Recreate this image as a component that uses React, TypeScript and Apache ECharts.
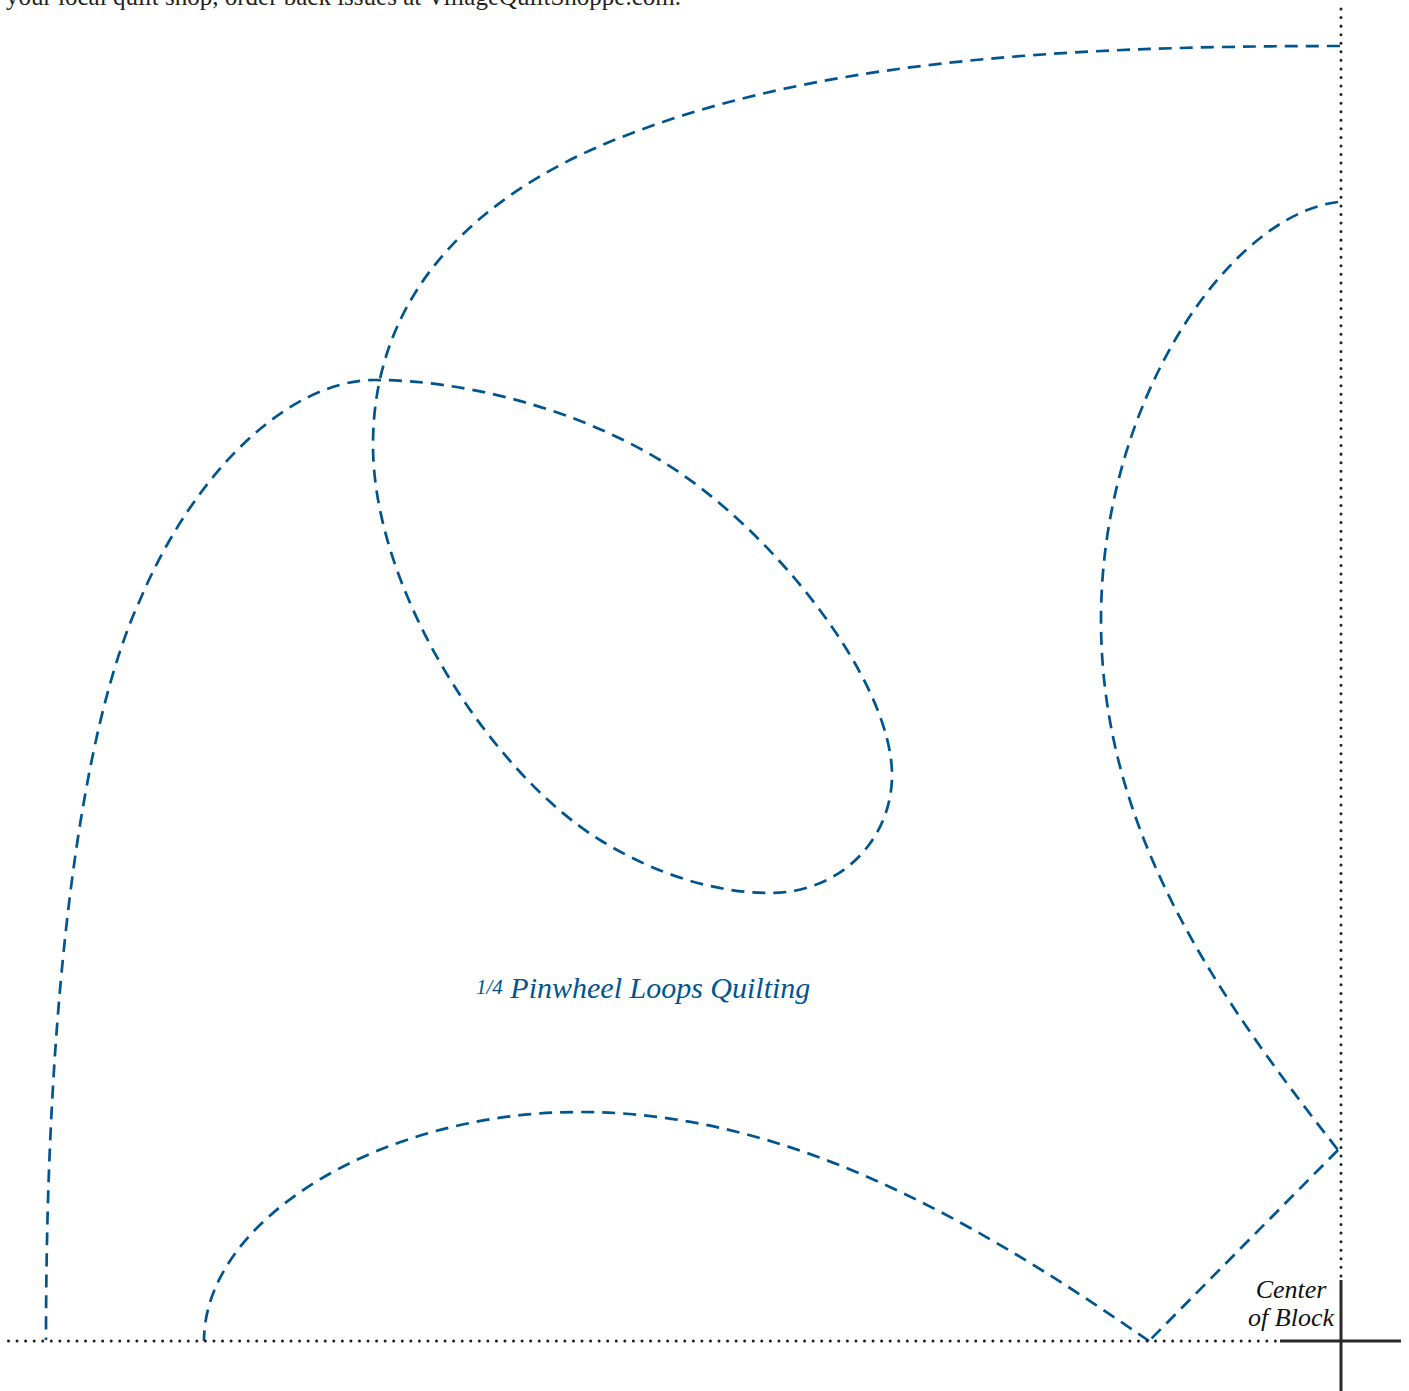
import React, { useEffect, useRef } from "react";
import * as echarts from "echarts";

// Cubic Bezier control polygons: start, then (control, control, end) for every segment.
const loopCurve: [number, number][] = [
  [1340, 46],
  [1060, 46], [800, 60], [600, 146],
  [480, 198], [373, 290], [373, 445],
  [373, 590], [490, 772], [600, 840],
  [655, 874], [715, 893], [770, 893],
  [840, 893], [892, 840], [892, 775],
  [892, 680], [770, 526], [660, 460],
  [570, 406], [460, 380], [375, 380],
  [290, 380], [195, 470], [140, 600],
  [80, 730], [46, 1000], [46, 1340],
];
const rightCurve: [number, number][] = [
  [1338, 202],
  [1230, 215], [1101, 400], [1101, 620],
  [1101, 830], [1215, 993], [1338, 1150],
];
const cornerLine: [number, number][] = [[1338, 1150], [1149, 1341]];
const bottomCurve: [number, number][] = [
  [1149, 1341],
  [960, 1210], [780, 1112], [580, 1112],
  [380, 1112], [204, 1220], [204, 1341],
];
const verticalDots: [number, number][] = [[1341, 9], [1341, 1280]];
const horizontalDots: [number, number][] = [[8.5, 1341], [1280, 1341]];
const crossVertical: [number, number][] = [[1341, 1280], [1341, 1391]];
const crossHorizontal: [number, number][] = [[1280, 1341], [1401, 1341]];

const BLUE = "#00558f";
const INK = "#231f20";
const DASH = [13, 8];

const bezier = (name: string, data: [number, number][]) => ({
  name, type: "custom", data, silent: true, clip: false,
  coordinateSystem: "cartesian2d",
  encode: { x: 0, y: 1 },
  renderItem: (params: any, api: any) => {
    if (params.dataIndex !== 0) return null;
    const p = data.map((d) => api.coord(d));
    let d = `M${p[0][0]} ${p[0][1]}`;
    for (let i = 1; i + 2 < p.length; i += 3) {
      d += `C${p[i][0]} ${p[i][1]} ${p[i + 1][0]} ${p[i + 1][1]} ${p[i + 2][0]} ${p[i + 2][1]}`;
    }
    return {
      type: "path",
      shape: { pathData: d },
      style: { fill: "none", stroke: BLUE, lineWidth: 2.7, lineDash: DASH },
    };
  },
});
const dashedLine = (name: string, data: [number, number][]) => ({
  name, type: "line", data, symbol: "none", silent: true,
  lineStyle: { color: BLUE, width: 2.7, type: DASH },
});
const dotted = (name: string, data: [number, number][]) => ({
  name, type: "line", data, symbol: "none", silent: true,
  lineStyle: { color: INK, width: 3, type: [0.01, 8.55], cap: "round" },
});
const solid = (name: string, data: [number, number][]) => ({
  name, type: "line", data, symbol: "none", silent: true,
  lineStyle: { color: "#2b2829", width: 3 },
});

export default function App() {
  const ref = useRef<HTMLDivElement>(null);
  useEffect(() => {
    const chart = echarts.init(ref.current!, undefined, { renderer: "svg" });
    chart.setOption({
      animation: false,
      backgroundColor: "#ffffff",
      grid: { left: 0, right: 0, top: 0, bottom: 0 },
      xAxis: { type: "value", min: 0, max: 1409, show: false },
      yAxis: { type: "value", min: 0, max: 1391, inverse: true, show: false },
      series: [
        bezier("loop", loopCurve),
        bezier("right", rightCurve),
        dashedLine("corner", cornerLine),
        bezier("bottom", bottomCurve),
        dotted("vertical fold", verticalDots),
        dotted("horizontal fold", horizontalDots),
        solid("cross vertical", crossVertical),
        solid("cross horizontal", crossHorizontal),
      ],
      graphic: [
        {
          type: "text", x: 6, y: -16,
          style: {
            text: "your local quilt shop, order back issues at VillageQuiltShoppe.com.",
            font: "25px 'Liberation Serif'", fill: INK,
          },
        },
        {
          type: "text", x: 476, y: 972,
          style: {
            text: "{f|1/4} Pinwheel Loops Quilting",
            font: "italic 30px 'Liberation Serif'", fill: BLUE,
            rich: { f: { font: "italic 21px 'Liberation Serif'", fill: BLUE } },
          },
        },
        {
          type: "text", x: 1291, y: 1275,
          style: {
            text: "Center\nof Block", align: "center",
            font: "italic 26px 'Liberation Serif'", fill: "#111111", lineHeight: 28,
          },
        },
      ],
    });
    return () => chart.dispose();
  }, []);
  return <div ref={ref} style={{ position: "absolute", left: 0, top: 0, width: 1409, height: 1391 }} />;
}
